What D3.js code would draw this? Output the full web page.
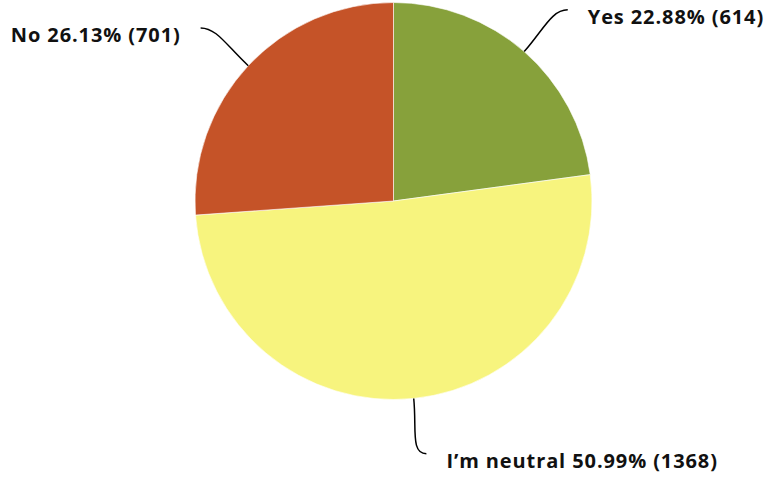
<!DOCTYPE html>
<html><head><meta charset="utf-8">
<script src="https://cdn.jsdelivr.net/npm/d3@7"></script>
<style>html,body{margin:0;padding:0;background:#fff;}svg{display:block;}</style>
</head><body>
<script>
const categories = ["Yes", "I\u2019m neutral", "No"];
const percents = [22.88, 50.99, 26.13];
const counts = [614, 1368, 701];
const colors = ["#87a13b", "#f7f47e", "#c55328"];

const W = 773, H = 478;
const cx = 393.5, cy = 201, R = 198.5, Rlab = 254;

const svg = d3.select("body").append("svg").attr("width", W).attr("height", H);
const g = svg.append("g").attr("transform", `translate(${cx},${cy})`);

const data = categories.map((c, i) => ({cat: c, pct: percents[i], n: counts[i], color: colors[i]}));
const pie = d3.pie().value(d => d.pct).sort(null);
const arcs = pie(data);
const arc = d3.arc().innerRadius(0).outerRadius(R);

g.selectAll("path.slice").data(arcs).enter().append("path")
  .attr("class", "slice")
  .attr("d", arc)
  .attr("fill", d => d.data.color)
  .attr("stroke", "#fff").attr("stroke-width", 0.6);

const pt = (a, r) => [r * Math.sin(a), -r * Math.cos(a)];

arcs.forEach(d => {
  const m = (d.startAngle + d.endAngle) / 2;
  const p0 = pt(m, R);
  const q = pt(m, Rlab);
  const side = q[0] >= 0 ? 1 : -1;
  const p3 = [q[0] + side * 7, q[1]];
  const p1 = pt(m, R + 30);
  const p2 = [p3[0] - side * 16, p3[1]];
  const path = d3.path();
  path.moveTo(p0[0], p0[1]);
  path.bezierCurveTo(p1[0], p1[1], p2[0], p2[1], p3[0], p3[1]);
  g.append("path").attr("d", path.toString())
    .attr("fill", "none").attr("stroke", "#000").attr("stroke-width", 1.5);
  g.append("text")
    .attr("x", p3[0] + side * 20)
    .attr("y", p3[1] + 14)
    .attr("text-anchor", side > 0 ? "start" : "end")
    .attr("font-family", "'Open Sans', sans-serif")
    .attr("font-weight", 700)
    .attr("font-size", 20)
    .attr("letter-spacing", "0.9px")
    .attr("fill", "#111")
    .text(`${d.data.cat} ${d.data.pct.toFixed(2)}% (${d.data.n})`);
});
</script>
</body></html>
